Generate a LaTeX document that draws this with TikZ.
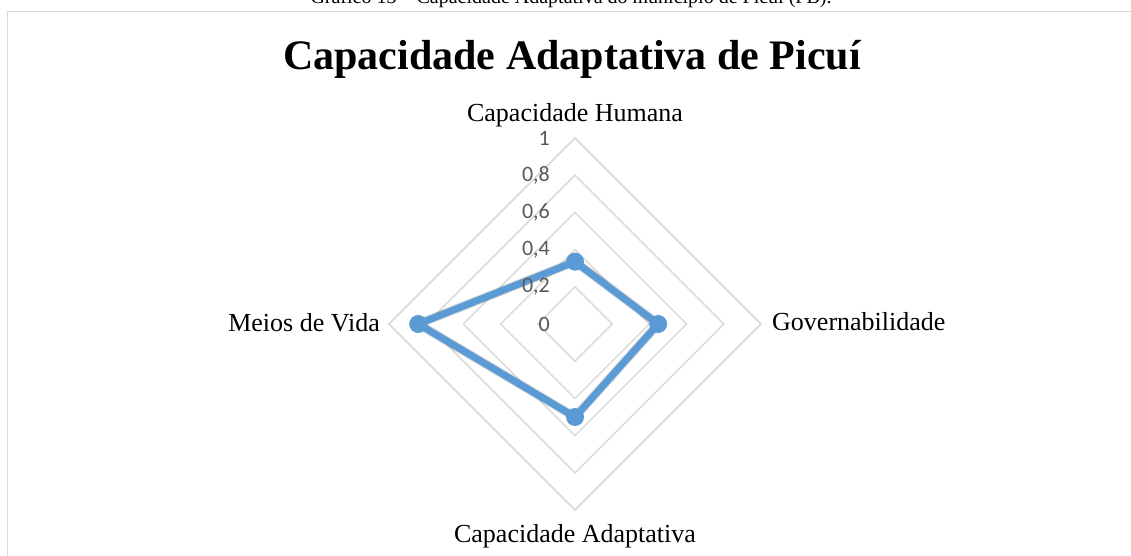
\documentclass[tikz,border=0pt]{standalone}
\usepackage{fontspec}
\setmainfont{Liberation Serif}
\newfontfamily\tickfont{Carlito}
\usetikzlibrary{calc}
\definecolor{gridgray}{HTML}{D9D9D9}
\definecolor{framegray}{HTML}{D9D9D9}
\definecolor{tickgray}{HTML}{595959}
\definecolor{seriesblue}{HTML}{5B9BD5}
\tikzset{
  gridline/.style={draw=gridgray, line width=1.5pt},
  serieslinestyle/.style={draw=seriesblue, line width=7pt, line join=round},
  shadowline/.style={draw=black, opacity=0.15, line width=9pt, line join=round},
  markerdot/.style={circle, fill=seriesblue, minimum size=18pt, inner sep=0pt},
  axislabel/.style={inner sep=0pt, font=\fontsize{26}{30}\selectfont},
  ticklabel/.style={inner sep=0pt, anchor=east, text=tickgray, font=\tickfont\fontsize{22}{26}\selectfont},
}
\begin{document}
\begin{tikzpicture}[x=1pt, y=-1pt]
\useasboundingbox (0,0) rectangle (1131,556);
\clip (0,0) rectangle (1131,556);
% caption cut at the top
\node[inner sep=0pt, anchor=base, font=\fontsize{20}{24}\selectfont] (caption) at (571,4) {Gráfico 13 – Capacidade Adaptativa do município de Picuí (PB).};
% chart frame
\draw[draw=framegray, line width=1.5pt] (7.5,580) |- (1160,11.5);
% title
\node[inner sep=0pt, anchor=base, font=\bfseries\fontsize{42}{48}\selectfont] (title) at (572,70) {Capacidade Adaptativa de Picuí};
% centre
\coordinate (c) at (575,324);
% grid diamonds
\foreach \r in {0.2,0.4,0.6,0.8,1} {
  \draw[gridline] ($(c)+(0,-186*\r)$) -- ($(c)+(186*\r,0)$) -- ($(c)+(0,186*\r)$) -- ($(c)+(-186*\r,0)$) -- cycle;
}
% axis labels
\node[axislabel, anchor=base] (lch) at (575,122) {Capacidade Humana};
\node[axislabel, anchor=base west] (lgov) at (772,330) {Governabilidade};
\node[axislabel, anchor=base] (lca) at (575,542) {Capacidade Adaptativa};
\node[axislabel, anchor=base east] (lmv) at (380,331) {Meios de Vida};
% data points
\coordinate (ch) at ($(c)+(0,-186*0.335)$);
\coordinate (gov) at ($(c)+(186*0.447,0)$);
\coordinate (ca) at ($(c)+(0,186*0.5)$);
\coordinate (mv) at ($(c)+(-186*0.843,0)$);
% shadow
\begin{scope}[shift={(1.5,3)}]
\draw[shadowline] (ch) -- (gov) -- (ca) -- (mv) -- cycle;
\end{scope}
% series
\draw[serieslinestyle] (ch) -- (gov) -- (ca) -- (mv) -- cycle;
\node[markerdot] (pch) at (ch) {};
\node[markerdot] (pgov) at (gov) {};
\node[markerdot] (pca) at (ca) {};
\node[markerdot] (pmv) at (mv) {};
% tick labels
\foreach \v/\t in {0/0,0.2/{0,2},0.4/{0,4},0.6/{0,6},0.8/{0,8},1/1} {
  \node[ticklabel] at ($(c)+(-25,-186*\v)$) {\t};
}
\end{tikzpicture}
\end{document}
